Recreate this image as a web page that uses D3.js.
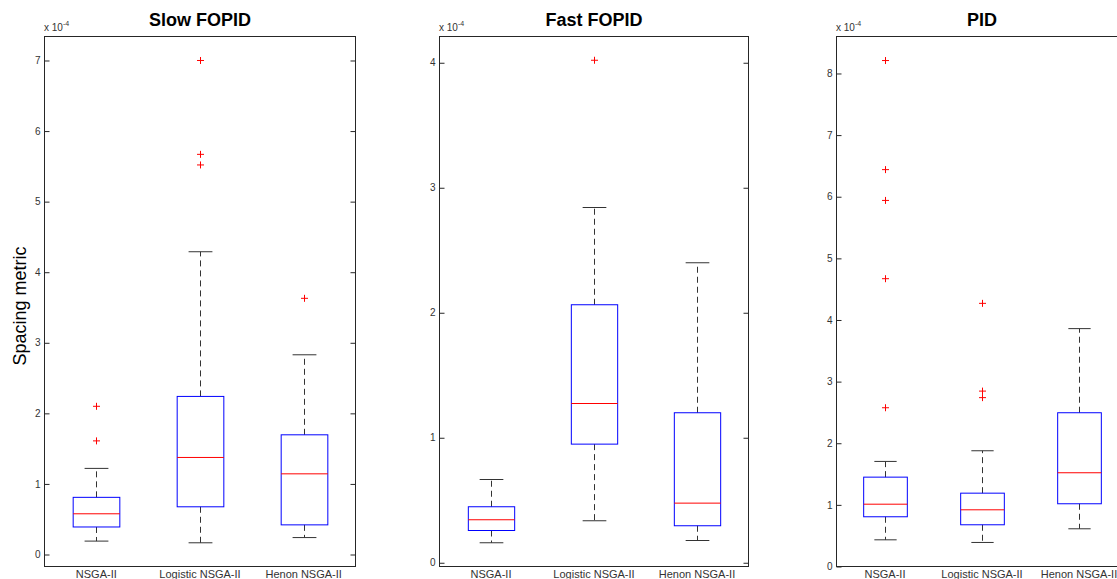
<!DOCTYPE html>
<html>
<head>
<meta charset="utf-8">
<script src="https://cdn.jsdelivr.net/npm/d3@7"></script>
<style>
  html, body { margin: 0; padding: 0; background: #fff; }
  svg { display: block; font-family: "Liberation Sans", Arial, sans-serif; }
</style>
</head>
<body>
<svg id="chart" width="1117" height="579"></svg>
<script>
// ---------- data (values in units of 1e-4) ----------
const categories = ["NSGA-II", "Logistic NSGA-II", "Henon NSGA-II"];
const panelTitles = ["Slow FOPID", "Fast FOPID", "PID"];
const yLabel = "Spacing metric";
const exponentLabel = "-4";

// each entry: [lowerWhisker, q1, median, q3, upperWhisker]
const slowStats = [
  [0.19, 0.39, 0.577, 0.81, 1.22],
  [0.166, 0.676, 1.375, 2.24, 4.29],
  [0.24, 0.42, 1.143, 1.696, 2.83]
];
const slowOutliers = [[2.10, 1.61], [7.00, 5.67, 5.52], [3.63]];

const fastStats = [
  [0.16, 0.258, 0.344, 0.448, 0.666],
  [0.336, 0.949, 1.274, 2.064, 2.842],
  [0.178, 0.296, 0.477, 1.20, 2.40]
];
const fastOutliers = [[], [4.02], []];

const pidStats = [
  [0.433, 0.807, 1.011, 1.45, 1.705],
  [0.39, 0.677, 0.92, 1.19, 1.878],
  [0.612, 1.018, 1.521, 2.495, 3.86]
];
const pidOutliers = [[8.21, 6.44, 5.94, 4.67, 2.576], [4.27, 2.846, 2.74], []];

const slowTicks = [0, 1, 2, 3, 4, 5, 6, 7];
const fastTicks = [0, 1, 2, 3, 4];
const pidTicks = [0, 1, 2, 3, 4, 5, 6, 7, 8];

const slowDomain = [-0.17, 7.34];
const fastDomain = [-0.03, 4.21];
const pidDomain = [0, 8.60];

// ---------- layout ----------
const panels = [
  { title: panelTitles[0], stats: slowStats, outliers: slowOutliers, ticks: slowTicks, domain: slowDomain, left: 44.5, right: 355.5 },
  { title: panelTitles[1], stats: fastStats, outliers: fastOutliers, ticks: fastTicks, domain: fastDomain, left: 439.5, right: 748.5 },
  { title: panelTitles[2], stats: pidStats, outliers: pidOutliers, ticks: pidTicks, domain: pidDomain, left: 836.5, right: 1127.5 }
];
const plotTop = 36.5, plotBottom = 566.5;
const axisColor = "#262626";

const svg = d3.select("#chart");

panels.forEach((p) => {
  const g = svg.append("g");
  const x = d3.scalePoint().domain(categories).range([p.left, p.right]).padding(0.5);
  const y = d3.scaleLinear().domain(p.domain).range([plotBottom, plotTop]);
  const step = x.step();
  const boxW = step * 0.45;
  const capW = step * 0.23;

  // left axis (ticks inward)
  const la = g.append("g").attr("transform", `translate(${p.left},0)`)
    .call(d3.axisLeft(y).tickValues(p.ticks).tickSize(-5).tickPadding(4).tickFormat(d3.format("d")));
  la.select(".domain").remove();
  la.selectAll("line").attr("stroke", axisColor);
  la.selectAll("text").attr("fill", "#333").style("font-size", "10px").style("font-family", "Liberation Sans, Arial, sans-serif");

  // right axis ticks (inward)
  const ra = g.append("g").attr("transform", `translate(${p.right},0)`)
    .call(d3.axisRight(y).tickValues(p.ticks).tickSize(-5).tickFormat(""));
  ra.select(".domain").remove();
  ra.selectAll("line").attr("stroke", axisColor);

  // frame
  g.append("rect").attr("x", p.left).attr("y", plotTop)
    .attr("width", p.right - p.left).attr("height", plotBottom - plotTop)
    .attr("fill", "none").attr("stroke", axisColor).attr("stroke-width", 1);

  // boxes
  p.stats.forEach((s, i) => {
    const cx = Math.round(x(categories[i])) + 0.5;
    const [lo, q1, med, q3, hi] = s;
    const bg = g.append("g");
    // whiskers (dashed)
    bg.append("line").attr("x1", cx).attr("x2", cx).attr("y1", y(q3)).attr("y2", y(hi))
      .attr("stroke", "#333").attr("stroke-dasharray", "6,4");
    bg.append("line").attr("x1", cx).attr("x2", cx).attr("y1", y(q1)).attr("y2", y(lo))
      .attr("stroke", "#333").attr("stroke-dasharray", "6,4");
    // caps
    [lo, hi].forEach(v => {
      bg.append("line").attr("x1", cx - capW / 2).attr("x2", cx + capW / 2)
        .attr("y1", y(v)).attr("y2", y(v)).attr("stroke", "#333");
    });
    // box
    bg.append("rect").attr("x", cx - boxW / 2).attr("y", y(q3))
      .attr("width", boxW).attr("height", y(q1) - y(q3))
      .attr("fill", "none").attr("stroke", "#0000ff").attr("stroke-width", 1);
    // median
    bg.append("line").attr("x1", cx - boxW / 2).attr("x2", cx + boxW / 2)
      .attr("y1", y(med)).attr("y2", y(med)).attr("stroke", "#ff0000");
    // outliers
    p.outliers[i].forEach(v => {
      const oy = y(v);
      bg.append("line").attr("x1", cx - 3.5).attr("x2", cx + 3.5).attr("y1", oy).attr("y2", oy).attr("stroke", "#ff0000");
      bg.append("line").attr("x1", cx).attr("x2", cx).attr("y1", oy - 3.5).attr("y2", oy + 3.5).attr("stroke", "#ff0000");
    });
    // x label
    g.append("text").attr("x", x(categories[i])).attr("y", 578)
      .attr("text-anchor", "middle").attr("fill", "#333").style("font-size", "11px")
      .text(categories[i]);
  });

  // title
  g.append("text").attr("x", (p.left + p.right) / 2)
    .attr("y", 26).attr("text-anchor", "middle").attr("fill", "#000")
    .style("font-size", "18px").style("font-weight", "bold").text(p.title);

  // exponent label
  const ex = g.append("text").attr("x", p.left - 0.5).attr("y", 31).attr("fill", "#333").style("font-size", "10px");
  ex.append("tspan").text("x 10");
  ex.append("tspan").attr("dy", -5).style("font-size", "7px").text(exponentLabel);
});

// y axis label
svg.append("text").attr("transform", "translate(26,306) rotate(-90)")
  .attr("text-anchor", "middle").attr("fill", "#000").style("font-size", "18px").text(yLabel);
</script>
</body>
</html>
